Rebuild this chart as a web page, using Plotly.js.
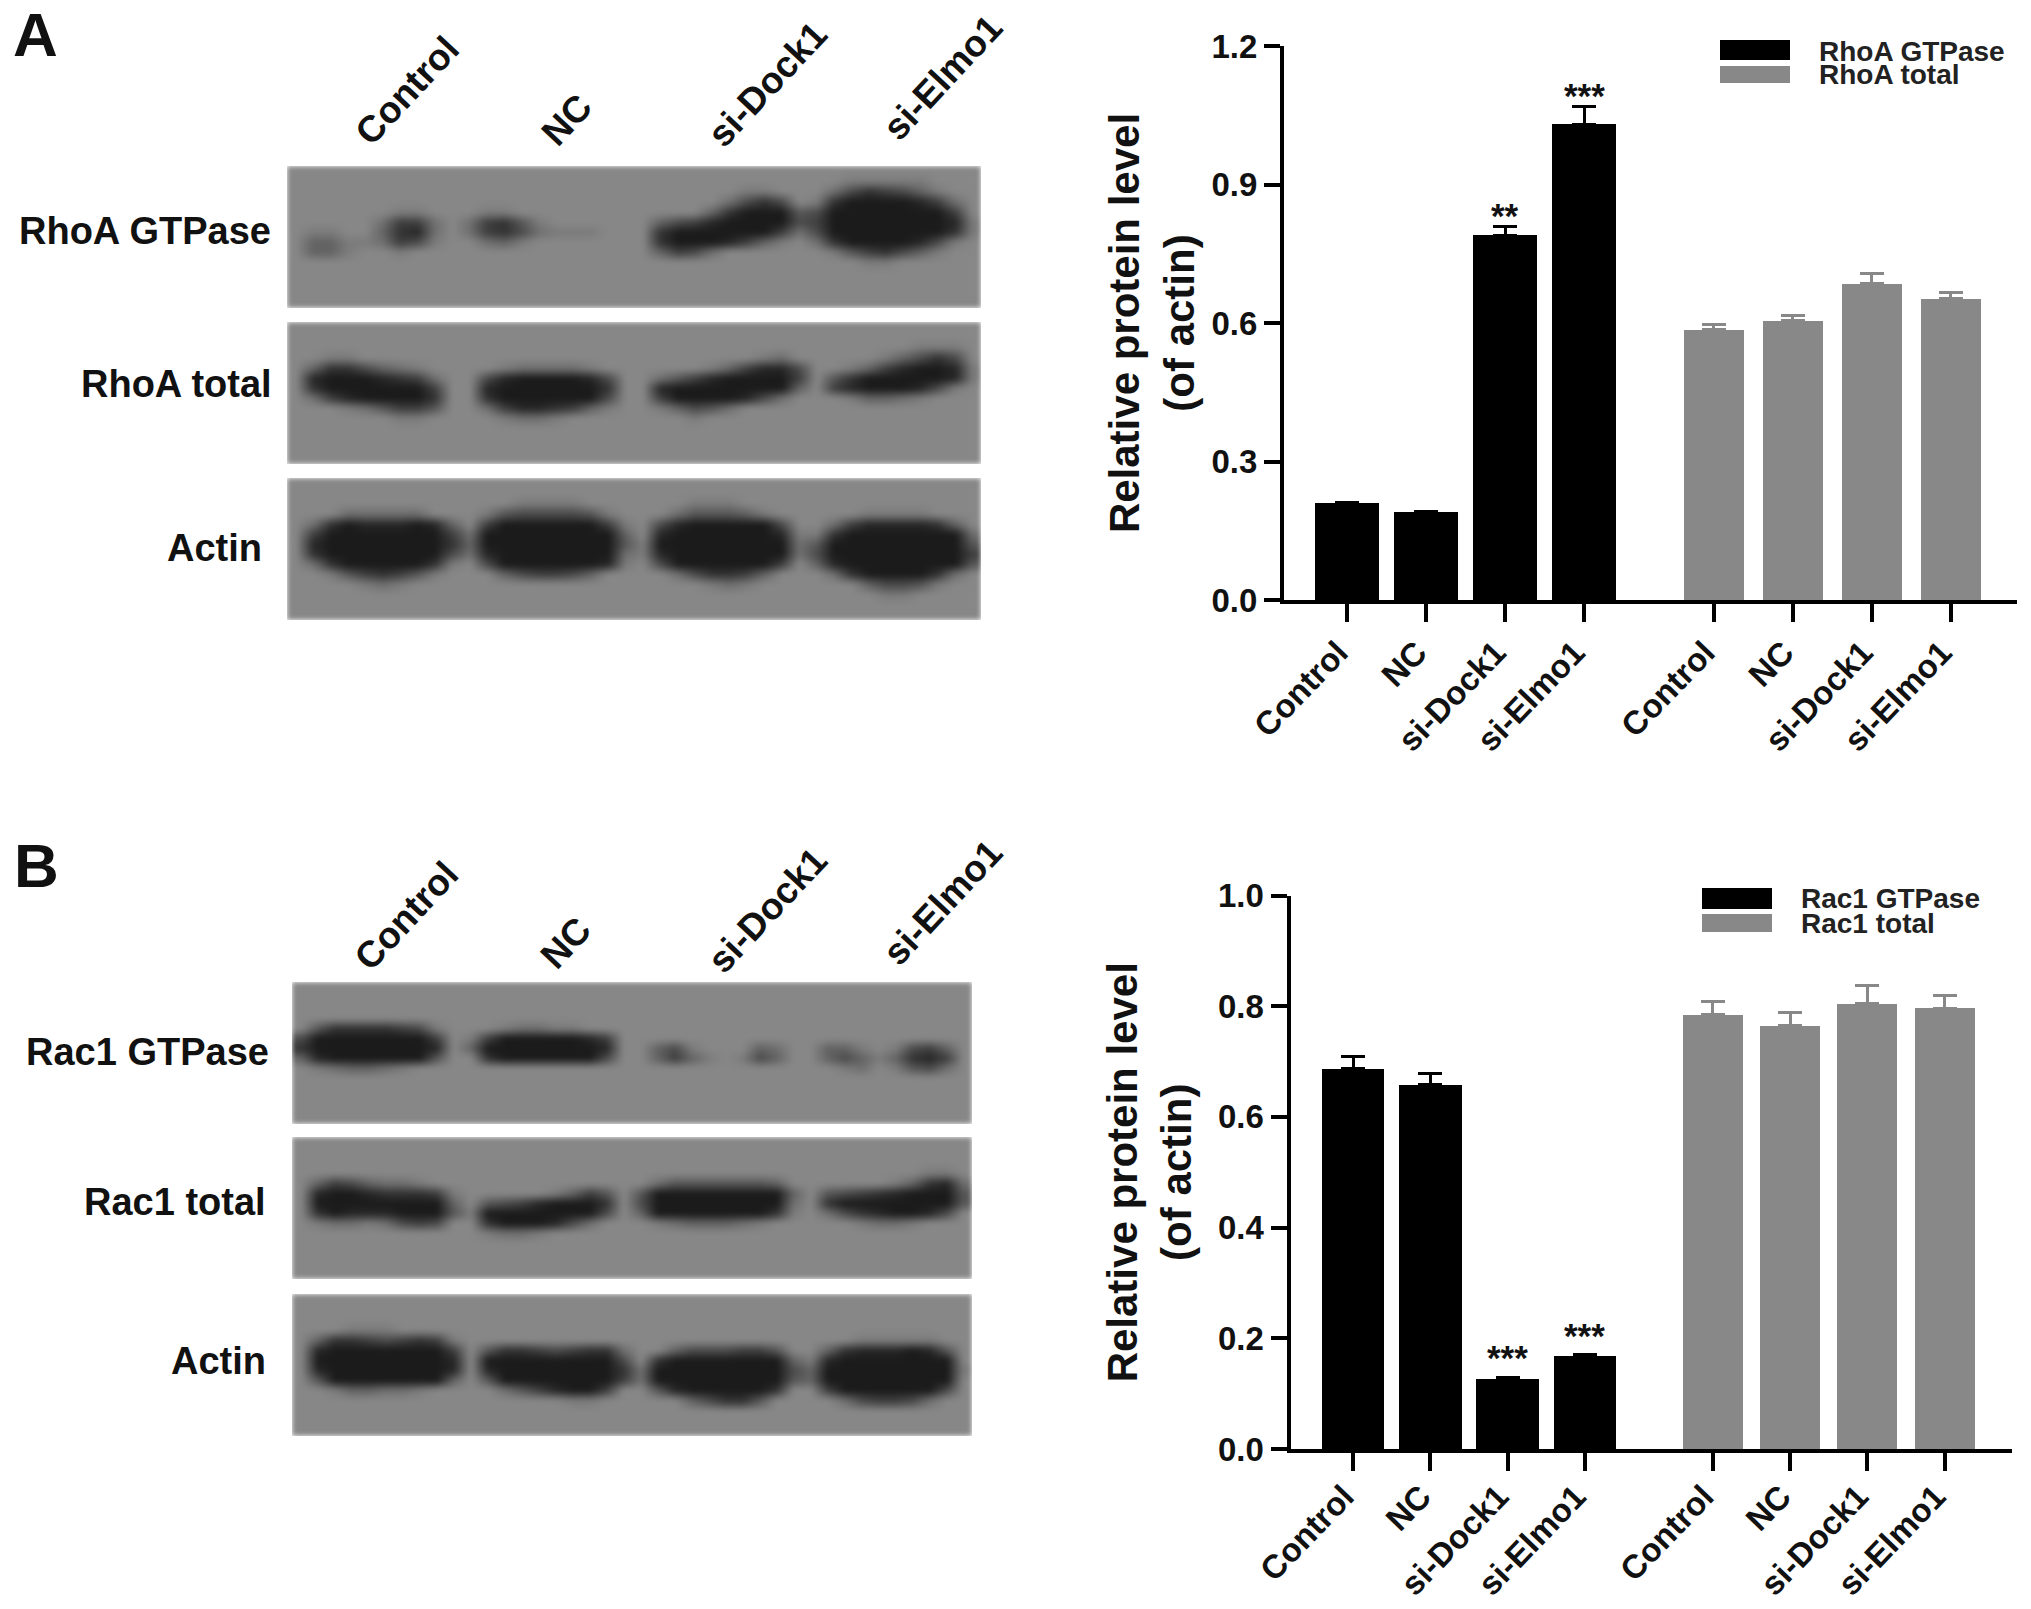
<!DOCTYPE html>
<html><head><meta charset="utf-8">
<script src="https://cdn.plot.ly/plotly-3.0.1.min.js"></script>
<style>html,body{margin:0;padding:0;background:#fff}#c{width:2031px;height:1609px}
.hm image{filter:blur(2.5px)}</style>
</head><body><div id="c"></div>
<script>
// ---------- data ----------
const groups = ['Control','NC','si-Dock1','si-Elmo1'];
const tickLabels = groups.concat(groups);
const rhoaSeries = ['RhoA GTPase','RhoA total'];
const rac1Series = ['Rac1 GTPase','Rac1 total'];
const rhoaGtp    = [0.21,0.19,0.79,1.03];
const rhoaGtpErr = [0.001,0.001,0.02,0.04];
const rhoaTot    = [0.585,0.605,0.685,0.652];
const rhoaTotErr = [0.012,0.011,0.022,0.013];
const rac1Gtp    = [0.687,0.658,0.127,0.168];
const rac1GtpErr = [0.023,0.021,0.003,0.002];
const rac1Tot    = [0.785,0.765,0.804,0.796];
const rac1TotErr = [0.024,0.024,0.034,0.023];
const rhoaStars = ['','','**','***'];
const rac1Stars = ['','','***','***'];
const rhoaYTicks = [0,0.3,0.6,0.9,1.2];
const rac1YTicks = [0,0.2,0.4,0.6,0.8,1.0];

// western-blot band darkness, one digit per cell
// (0 = membrane grey, 9 = black); 14 rows of 40 cells
const o = '0000000000 0000000000 0000000000 0000000000';
const blotRhoaGtp = [o,
 '0000000000 0000000000 0000000000 0011111000',
 '0000000000 0000000000 0000001100 0257653100',
 '0000000000 0000000000 0000025750 1799998620',
 '0000001100 0110000000 0000379994 5999999960',
 '0000026620 2674100000 0356899995 6999999981',
 '0110037820 2675211100 0799999962 5999999971',
 '0331126510 0231000000 0799986310 2799998510',
 '0331001000 0000000000 0365200000 0146753100',
 '0000000000 0000000000 0000000000 0001100000',
 o,o,o,o];
const blotRhoaTot = [o,o,
 '0000000000 0000000000 0000000000 0000001110',
 '0011000000 0000000000 0000000120 0000135750',
 '0377532100 0012222100 0000136885 0013689981',
 '0899987620 0589999850 0246899996 0479999981',
 '0799999960 0899999970 0899999993 0689998510',
 '0268999970 0799999950 0699998520 0013321000',
 '0001246640 0268876310 0135420000 0000000000',
 '0000001100 0012210000 0001000000 0000000000',
 o,o,o,o];
const blotRhoaAct = [o,o,
 '0000000000 0001111000 0001110000 0000000000',
 '0002222200 0145555410 0024443100 0001111000',
 '0279888983 0699999961 0589999950 0268888730',
 '0699999996 2999999993 0899999981 1799999992',
 '0899999997 3999999994 1999999992 4999999994',
 '0799999995 2899999992 1899999992 5999999996',
 '0279999971 0599999981 0599999960 3899999994',
 '0014676410 0035665300 0025776300 0279999720',
 '0000121000 0000000000 0000121000 0003554100',
 '0000000000 0000000000 0000000000 0000110000',
 o,o];
const blotRacGtp = [o,o,o,o,
 '0477776510 0012211000 0000000000 0000000000',
 '5999999960 1699999860 0000000000 0000000000',
 '7999999980 3999999980 0351000320 0331015630',
 '3899999940 0799999950 0363101530 0353137860',
 '0123321000 0000000000 0000000000 0012014520',
 o,o,o,o,o];
const blotRacTot = [o,o,o,
 '0000000000 0000000000 0000000000 0000000110',
 '0365322100 0000000000 0244444430 0000013782',
 '0899877761 0000013640 4999999993 0456789994',
 '0999999993 0456899970 5999999992 0799999994',
 '0798889994 1999999950 3999999971 0257899850',
 '0122125650 0799985200 0123332100 0001221000',
 '0000000000 0122100000 0000000000 0000000000',
 o,o,o,o];
const blotRacAct = [o,o,o,
 '0001110000 0000000000 0000000000 0000000000',
 '0377656761 0000000000 0000000000 0001111100',
 '0899999996 0477656772 0035556640 0378889840',
 '0999999998 0999999995 0799999993 1899999990',
 '0899999998 0899999997 2999999995 3999999991',
 '0499999993 0499999996 2999999994 3999999990',
 '0013322100 0024689960 0489999970 0699999950',
 '0000000000 0000001100 0003577400 0025665200',
 o,o,o];

// ---------- layout helpers (pixel geometry of the page) ----------
const W = 2031, H = 1609;
const px = v => v / W, py = v => 1 - v / H;
const FONT = '"Liberation Sans", Arial, sans-serif';
const BLACK = '#000000', GREY = '#888888';

const data = [], shapes = [], annotations = [];
const layout = {width:W,height:H,margin:{l:0,r:0,t:0,b:0},paper_bgcolor:'#fff',plot_bgcolor:'rgba(0,0,0,0)',
  showlegend:false,font:{family:FONT,color:'#111'},shapes,annotations,bargap:0};

const toCells = rows => rows.map(r => Array.from(r.replace(/ /g,''), Number));
const blots = [
 [blotRhoaGtp,287,981,166,308],[blotRhoaTot,287,981,322,464],[blotRhoaAct,287,981,478,620],
 [blotRacGtp,292,972,982,1124],[blotRacTot,292,972,1137,1279],[blotRacAct,292,972,1294,1436]];
blots.forEach((b,i)=>{
  const n = i+3;
  data.push({type:'heatmap',z:toCells(b[0]),xaxis:'x'+n,yaxis:'y'+n,zmin:0,zmax:9,zsmooth:'best',showscale:false,hoverinfo:'skip',
    colorscale:[[0,'#878787'],[1,'#1b1b1b']]});
  layout['xaxis'+n] = {domain:[px(b[1]),px(b[2])],anchor:'y'+n,visible:false,range:[-0.5,39.5],fixedrange:true};
  layout['yaxis'+n] = {domain:[py(b[4]),py(b[3])],anchor:'x'+n,visible:false,range:[13.5,-0.5],fixedrange:true};
});

function chart(o){
  const xa = 'x'+o.n, ya = 'y'+o.n;
  const xA = [1,2,3,4], xB = xA.map(v=>v+o.gap);
  data.push({type:'bar',name:o.names[0],x:xA,y:o.a,width:o.wA,marker:{color:BLACK},xaxis:xa,yaxis:ya,
    error_y:{type:'data',symmetric:false,array:o.aErr,arrayminus:[0,0,0,0],color:BLACK,thickness:3,width:12}});
  data.push({type:'bar',name:o.names[1],x:xB,y:o.b,width:o.wB,marker:{color:GREY},xaxis:xa,yaxis:ya,
    error_y:{type:'data',symmetric:false,array:o.bErr,arrayminus:[0,0,0,0],color:GREY,thickness:3,width:12}});
  const sfx = o.n===1?'':o.n;
  layout['xaxis'+sfx] = {domain:[px(o.left),px(o.right)],anchor:'y'+sfx,
    range:[1-(o.x1-o.left)/o.unit,1+(o.right-o.x1)/o.unit],
    tickmode:'array',tickvals:xA.concat(xB),ticktext:tickLabels,tickangle:-46,ticklabelshift:-9,ticklabelstandoff:o.labelOff,
    tickfont:{family:FONT,size:33,color:'#111',weight:700},
    ticks:'outside',ticklen:18,tickwidth:4,tickcolor:'#000',showline:true,linewidth:4,linecolor:'#000',
    showgrid:false,zeroline:false,fixedrange:true};
  layout['yaxis'+sfx] = {domain:[py(o.bottom),py(o.top)],anchor:'x'+sfx,range:[0,o.ymax],
    tickmode:'array',tickvals:o.yticks,ticktext:o.yticks.map(v=>v.toFixed(1)),
    tickfont:{family:FONT,size:33,color:'#111',weight:700},
    ticks:'outside',ticklen:16,tickwidth:4,tickcolor:'#000',showline:true,linewidth:4,linecolor:'#000',
    showgrid:false,zeroline:false,fixedrange:true,
    title:{text:'Relative protein level<br>(of actin)',standoff:o.standoff,font:{family:FONT,size:42,color:'#111',weight:700}}};
  o.stars.forEach((s,i)=>{ if(s) annotations.push({xref:xa,yref:ya,x:xA[i],y:o.a[i]+o.aErr[i],text:s,showarrow:false,
    yanchor:'bottom',yshift:o.starShift,font:{family:FONT,size:35,color:'#111',weight:700}}); });
  o.names.forEach((nm,i)=>{
    shapes.push({type:'rect',xref:'paper',yref:'paper',x0:px(o.keyX[0]),x1:px(o.keyX[1]),y0:py(o.keyY[i][1]),y1:py(o.keyY[i][0]),
      fillcolor:i?GREY:BLACK,line:{width:0}});
    annotations.push({xref:'paper',yref:'paper',x:px(o.keyText),y:py(o.keyTextY[i]),xanchor:'left',yanchor:'middle',text:nm,
      showarrow:false,font:{family:FONT,size:28,color:'#222',weight:700}});
  });
}
chart({n:1,names:rhoaSeries,a:rhoaGtp,aErr:rhoaGtpErr,b:rhoaTot,bErr:rhoaTotErr,stars:rhoaStars,gap:4.645,yticks:rhoaYTicks,ymax:1.2,
  left:1284,right:2017,top:46,bottom:600,x1:1347,unit:79,wA:0.8,wB:0.77,starShift:-11,standoff:5,labelOff:-2,
  keyX:[1720,1790],keyY:[[40,60],[66,83]],keyText:1817,keyTextY:[51,75]});
chart({n:2,names:rac1Series,a:rac1Gtp,aErr:rac1GtpErr,b:rac1Tot,bErr:rac1TotErr,stars:rac1Stars,gap:4.655,yticks:rac1YTicks,ymax:1.0,
  left:1290.5,right:2012,top:895.5,bottom:1449,x1:1353,unit:77.3,wA:0.81,wB:0.775,starShift:-2,standoff:14,labelOff:-7,
  keyX:[1702,1772],keyY:[[888,909],[914,932]],keyText:1799,keyTextY:[899,923]});

function label(text,x,y,size,anchor,angle){
  annotations.push({xref:'paper',yref:'paper',x:px(x),y:py(y),text,showarrow:false,xanchor:anchor,yanchor:'middle',textangle:angle||0,
    font:{family:FONT,size,color:'#111',weight:700}});
}
[[groups[0],407,90],[groups[1],566,120],[groups[2],767,84],[groups[3],943,78],
 [groups[0],407,916],[groups[1],565,943],[groups[2],767,910],[groups[3],943,903]]
 .forEach(l=>label(l[0],l[1],l[2],37,'center',-47));
label(rhoaSeries[0],273,231,38,'right'); label(rhoaSeries[1],274,384,38,'right'); label('Actin',264,548,38,'right');
label(rac1Series[0],271,1052,38,'right'); label(rac1Series[1],268,1202,38,'right'); label('Actin',268,1361,38,'right');
label('A',11,34,62,'left'); label('B',12,865,62,'left');

Plotly.newPlot('c',data,layout,{staticPlot:true,displayModeBar:false});
</script></body></html>
